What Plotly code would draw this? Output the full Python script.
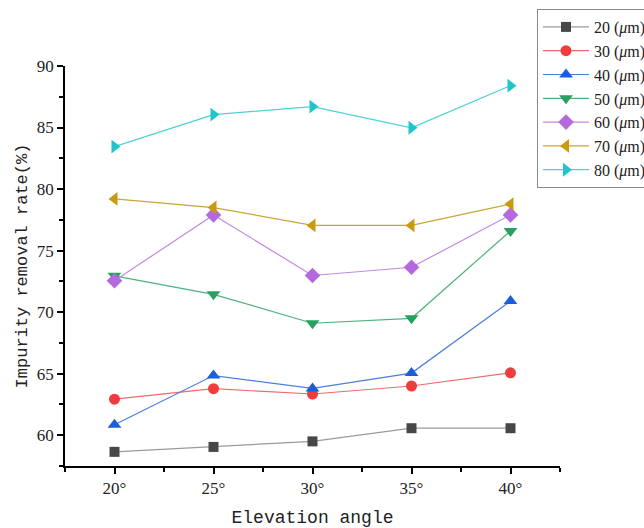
import plotly.graph_objects as go

angles = [20, 25, 30, 35, 40]
tick_labels = ["20°", "25°", "30°", "35°", "40°"]
series_names = ["20 (<i>μ</i>m)", "30 (<i>μ</i>m)", "40 (<i>μ</i>m)", "50 (<i>μ</i>m)",
                "60 (<i>μ</i>m)", "70 (<i>μ</i>m)", "80 (<i>μ</i>m)"]
v20 = [58.65, 59.05, 59.5, 60.57, 60.57]
v30 = [62.93, 63.78, 63.35, 64.0, 65.07]
v40 = [60.85, 64.85, 63.8, 65.05, 70.9]
v50 = [72.95, 71.45, 69.1, 69.5, 76.6]
v60 = [72.55, 77.9, 72.98, 73.65, 77.9]
v70 = [79.2, 78.5, 77.05, 77.05, 78.78]
v80 = [83.45, 86.05, 86.7, 84.98, 88.4]

values = [v20, v30, v40, v50, v60, v70, v80]
colors = ["#474747", "#f03c3c", "#1a5fd8", "#27a060", "#b46ade", "#c9990f", "#1ec6cc"]
line_colors = ["#9a9a9a", "#f06a6a", "#4a7ee0", "#4fb27c", "#c08ae0", "#c9a43a", "#4fd0d4"]
symbols = ["square", "circle", "triangle-up", "triangle-down", "diamond", "triangle-left", "triangle-right"]
sizes = [10, 11, 12, 12, 12, 12, 12]

fig = go.Figure()
for name, vals, c, lc, s, sz in zip(series_names, values, colors, line_colors, symbols, sizes):
    fig.add_trace(go.Scatter(
        x=angles, y=vals, name=name, mode="lines+markers",
        line=dict(color=lc, width=1.2),
        marker=dict(symbol=s, size=sz, color=c, line=dict(width=0)),
    ))

axis_font = dict(family="Liberation Serif", size=17, color="#222")
fig.update_layout(
    width=644, height=528,
    paper_bgcolor="white", plot_bgcolor="white",
    margin=dict(l=65, r=84, t=66, b=62, autoexpand=False),
    showlegend=True,
    legend=dict(
        x=(537 - 65) / 495, y=1 + (66 - 9) / 400, xanchor="left", yanchor="top",
        bordercolor="#8a8a8a", borderwidth=1, bgcolor="white",
        font=dict(family="Liberation Serif", size=16, color="#222"),
        tracegroupgap=0, itemwidth=46,
    ),
    xaxis=dict(
        range=[17.5, 42.5], tickmode="array", tickvals=angles, ticktext=tick_labels,
        showgrid=False, zeroline=False, showline=True, linecolor="black", linewidth=1.5,
        ticks="outside", ticklen=6, tickwidth=1.5, tickcolor="black",
        minor=dict(tickmode="array", tickvals=[17.5, 22.5, 27.5, 32.5, 37.5, 42.5],
                   ticks="outside", ticklen=4, tickwidth=1.5, tickcolor="black"),
        tickfont=axis_font,
        title=dict(text="Elevation angle", font=dict(family="Liberation Mono", size=18, color="#222"),
                   standoff=13),
    ),
    yaxis=dict(
        range=[57.5, 90], tickmode="array", tickvals=[60, 65, 70, 75, 80, 85, 90],
        showgrid=False, zeroline=False, showline=True, linecolor="black", linewidth=1.5,
        ticks="outside", ticklen=6, tickwidth=1.5, tickcolor="black",
        minor=dict(tickmode="array", tickvals=[57.5, 62.5, 67.5, 72.5, 77.5, 82.5, 87.5],
                   ticks="outside", ticklen=4, tickwidth=1.5, tickcolor="black"),
        tickfont=axis_font,
        title=dict(text="Impurity removal rate(%)", font=dict(family="Liberation Mono", size=17, color="#222"),
                   standoff=5),
    ),
)
fig.write_html("out.html", config={"displayModeBar": False},
               post_script="document.body.style.margin='0px';")
